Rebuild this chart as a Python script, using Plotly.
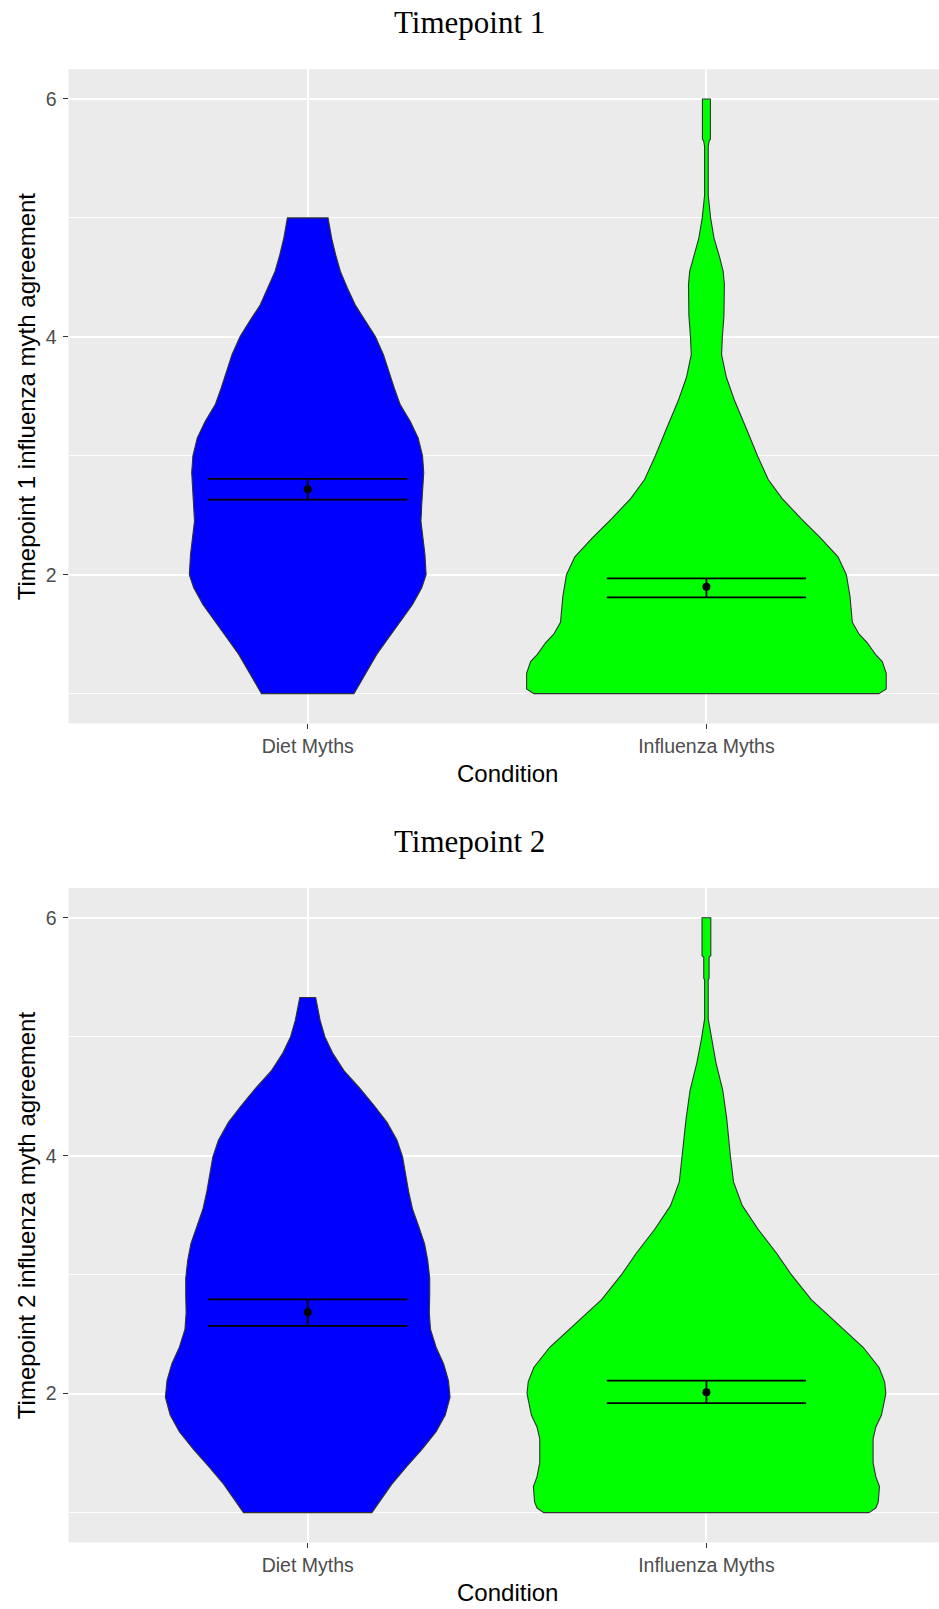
import plotly.graph_objects as go

# ---------------- data ----------------
categories = ["Diet Myths", "Influenza Myths"]
cat_pos = [1, 2]
panel_titles = ["Timepoint 1", "Timepoint 2"]
y_titles = ["Timepoint 1 influenza myth agreement", "Timepoint 2 influenza myth agreement"]
x_title = "Condition"
y_tickvals = [2, 4, 6]
y_minorvals = [1, 3, 5]

# Violin density profiles: agreement level and half-width (in category units)
t1_diet_levels = [1.0, 1.19, 1.33, 1.47, 1.61, 1.75, 1.89, 2.0, 2.17, 2.31, 2.45, 2.59, 2.73, 2.86,
                  3.0, 3.15, 3.29, 3.43, 3.57, 3.71, 3.85, 4.0, 4.13, 4.27, 4.41, 4.55, 4.69, 4.83, 5.0]
t1_diet_hw = [0.116, 0.148, 0.173, 0.203, 0.234, 0.263, 0.286, 0.297, 0.294, 0.289, 0.284, 0.286, 0.289, 0.291,
              0.288, 0.277, 0.257, 0.232, 0.217, 0.203, 0.190, 0.170, 0.146, 0.119, 0.0995, 0.082, 0.070, 0.060, 0.051]

t1_flu_levels = [1.0, 1.04, 1.17, 1.27, 1.33, 1.43, 1.5, 1.6, 1.82, 2.0, 2.15, 2.31, 2.47, 2.64, 2.80, 3.0,
                 3.23, 3.46, 3.66, 3.85, 4.0, 4.18, 4.44, 4.55, 4.67, 4.83, 5.0, 5.1, 5.19, 5.6, 5.65, 5.66, 6.0]
t1_flu_hw = [0.433, 0.451, 0.451, 0.441, 0.424, 0.403, 0.383, 0.366, 0.360, 0.351, 0.330, 0.286, 0.238, 0.190, 0.155, 0.128,
             0.100, 0.071, 0.050, 0.038, 0.040, 0.044, 0.045, 0.042, 0.033, 0.019, 0.0105, 0.007, 0.0046, 0.0046, 0.007, 0.010, 0.010]

t2_diet_levels = [1.0, 1.24, 1.39, 1.53, 1.68, 1.82, 1.97, 2.11, 2.25, 2.39, 2.54, 2.68, 2.83, 2.97, 3.12,
                  3.26, 3.41, 3.55, 3.70, 3.84, 3.99, 4.13, 4.28, 4.42, 4.57, 4.71, 4.86, 5.0, 5.14, 5.33]
t2_diet_hw = [0.161, 0.211, 0.249, 0.286, 0.322, 0.345, 0.357, 0.353, 0.341, 0.322, 0.308, 0.305, 0.306, 0.306, 0.301,
              0.293, 0.278, 0.263, 0.253, 0.245, 0.238, 0.224, 0.199, 0.167, 0.130, 0.092, 0.063, 0.043, 0.031, 0.020]

t2_flu_levels = [1.0, 1.04, 1.09, 1.22, 1.3, 1.42, 1.62, 1.72, 1.82, 2.0, 2.1, 2.22, 2.39, 2.59, 2.79, 3.0, 3.18,
                 3.38, 3.58, 3.78, 4.0, 4.31, 4.55, 4.78, 4.98, 5.15, 5.48, 5.49, 5.67, 5.68, 6.0]
t2_flu_hw = [0.408, 0.425, 0.431, 0.434, 0.425, 0.418, 0.418, 0.425, 0.439, 0.450, 0.447, 0.433, 0.393, 0.328, 0.263, 0.213, 0.176,
             0.130, 0.090, 0.068, 0.060, 0.051, 0.041, 0.024, 0.0125, 0.0045, 0.0045, 0.0067, 0.0067, 0.011, 0.011]

# Means with error bar limits
t1_means = [2.719, 1.898]
t1_upper = [2.806, 1.970]
t1_lower = [2.632, 1.810]
t2_means = [2.684, 2.011]
t2_upper = [2.792, 2.110]
t2_lower = [2.569, 1.921]

fill_colors = ["#0000FF", "#00FF00"]

# ---------------- layout geometry ----------------
W, H = 939, 1609
px_per_cat = 398.7
plot_left = 68.5
x_range = [0.4, 0.4 + (W - plot_left) / px_per_cat]
x_domain = [plot_left / W, 1.0]
p1_top, p1_bot = 69.2, 723.4
p2_top, p2_bot = 888.0, 1542.4
y1_domain = [1 - p1_bot / H, 1 - p1_top / H]
y2_domain = [1 - p2_bot / H, 1 - p2_top / H]

fig = go.Figure()


def add_violin(pos, levels, hw, color, xa, ya):
    xs = [pos + w for w in hw] + [pos - w for w in reversed(hw)] + [pos + hw[0]]
    ys = list(levels) + list(reversed(levels)) + [levels[0]]
    fig.add_trace(go.Scatter(x=xs, y=ys, mode="lines", fill="toself", fillcolor=color,
                             line=dict(color="#333333", width=1.1), xaxis=xa, yaxis=ya,
                             hoverinfo="skip", showlegend=False))


def add_errbars(means, upper, lower, xa, ya):
    ex, ey = [], []
    for p, u, l in zip(cat_pos, upper, lower):
        ex += [p - 0.25, p + 0.25, None, p - 0.25, p + 0.25, None, p, p, None]
        ey += [u, u, None, l, l, None, l, u, None]
    fig.add_trace(go.Scatter(x=ex, y=ey, mode="lines", line=dict(color="black", width=1.8),
                             xaxis=xa, yaxis=ya, hoverinfo="skip", showlegend=False))
    fig.add_trace(go.Scatter(x=cat_pos, y=means, mode="markers",
                             marker=dict(color="black", size=8), xaxis=xa, yaxis=ya, showlegend=False))


add_violin(cat_pos[0], t1_diet_levels, t1_diet_hw, fill_colors[0], "x", "y")
add_violin(cat_pos[1], t1_flu_levels, t1_flu_hw, fill_colors[1], "x", "y")
add_errbars(t1_means, t1_upper, t1_lower, "x", "y")
add_violin(cat_pos[0], t2_diet_levels, t2_diet_hw, fill_colors[0], "x2", "y2")
add_violin(cat_pos[1], t2_flu_levels, t2_flu_hw, fill_colors[1], "x2", "y2")
add_errbars(t2_means, t2_upper, t2_lower, "x2", "y2")

tick_font = dict(family="Liberation Sans, Arial, sans-serif", size=19.5, color="#4D4D4D")
xaxis_common = dict(domain=x_domain, range=x_range, tickmode="array", tickvals=cat_pos, ticktext=categories,
                    showgrid=True, gridcolor="white", gridwidth=2, zeroline=False, showline=False,
                    ticks="outside", ticklen=5, tickwidth=1.3, tickcolor="#333333", tickfont=tick_font,
                    fixedrange=True)
yaxis_common = dict(range=[0.75, 6.25], tickmode="array", tickvals=y_tickvals,
                    showgrid=True, gridcolor="white", gridwidth=2, zeroline=False, showline=False,
                    ticks="outside", ticklen=5, tickwidth=1.3, tickcolor="#333333", tickfont=tick_font,
                    ticklabelstandoff=2,
                    minor=dict(tickmode="array", tickvals=y_minorvals, showgrid=True, gridcolor="white",
                               gridwidth=1.1, ticks=""),
                    fixedrange=True)

fig.update_layout(
    width=W, height=H,
    margin=dict(l=0, r=0, t=0, b=0),
    paper_bgcolor="white", plot_bgcolor="#EBEBEB",
    showlegend=False,
    xaxis=dict(anchor="y", **xaxis_common),
    yaxis=dict(anchor="x", domain=y1_domain, **yaxis_common),
    xaxis2=dict(anchor="y2", **xaxis_common),
    yaxis2=dict(anchor="x2", domain=y2_domain, **yaxis_common),
)

title_font = dict(family="Liberation Serif, Times New Roman, serif", size=31, color="black")
axis_title_font = dict(family="Liberation Sans, Arial, sans-serif", size=24, color="black")
x_center = (plot_left + (plot_left + 2.2 * px_per_cat)) / 2 / W

annotations = []
for i, (ptop, pbot) in enumerate([(p1_top, p1_bot), (p2_top, p2_bot)]):
    title_y = [23.0, 841.0][i]
    annotations.append(dict(text=panel_titles[i], x=469 / W, y=1 - title_y / H, xref="paper", yref="paper",
                            xanchor="center", yanchor="middle", showarrow=False, font=title_font))
    annotations.append(dict(text=x_title, x=x_center, y=1 - (pbot + 50) / H, xref="paper", yref="paper",
                            xanchor="center", yanchor="middle", showarrow=False, font=axis_title_font))
    annotations.append(dict(text=y_titles[i], x=26 / W, y=1 - ((ptop + pbot) / 2) / H, xref="paper", yref="paper",
                            xanchor="center", yanchor="middle", textangle=-90, showarrow=False,
                            font=axis_title_font))
fig.update_layout(annotations=annotations)

fig.write_html("out.html", config={"displayModeBar": False},
               post_script="document.body.style.margin='0';document.body.style.overflow='hidden';")
